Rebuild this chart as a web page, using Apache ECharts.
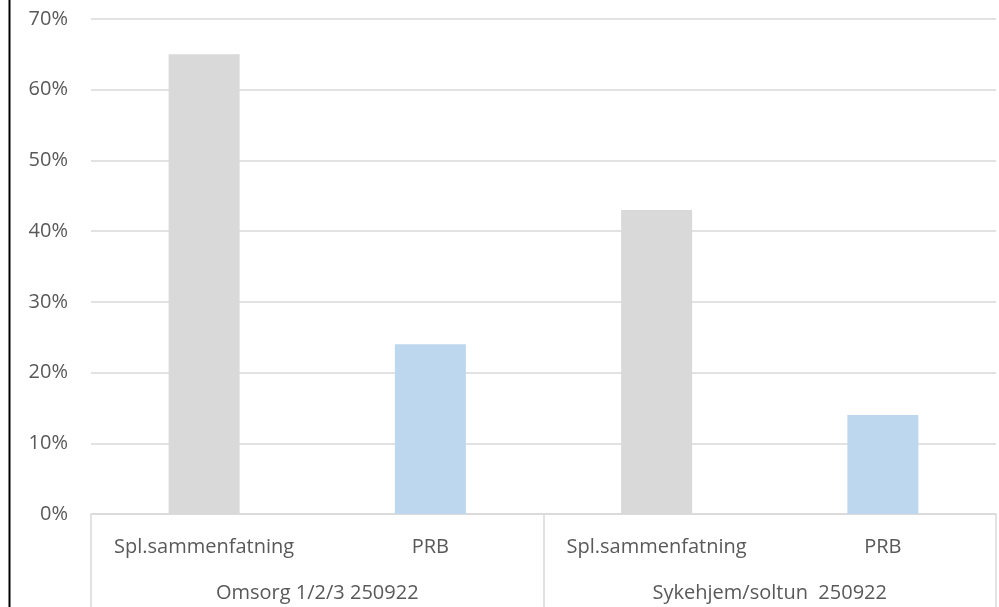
<!DOCTYPE html>
<html>
<head>
<meta charset="utf-8">
<script src="https://cdn.jsdelivr.net/npm/echarts@6/dist/echarts.min.js"></script>
<style>
  html, body { margin: 0; padding: 0; background: #fff; }
  #chart { width: 999px; height: 607px; }
</style>
</head>
<body>
<div id="chart"></div>
<script>
// Inner (per-bar) and outer (group) category labels
const categories = ['Spl.sammenfatning', 'PRB', 'Spl.sammenfatning', 'PRB'];
const groups = ['Omsorg 1/2/3 250922', 'Sykehjem/soltun  250922'];
// Share in percent for each bar
const values = [65, 24, 43, 14];
const barColors = ['#d9d9d9', '#bdd7ee', '#d9d9d9', '#bdd7ee'];
const yTicks = [0, 10, 20, 30, 40, 50, 60, 70];

const FONT = 'Open Sans';
const SIZE = 20;
const TEXT = '#595959';
const LINE = '#d9d9d9';

const chart = echarts.init(document.getElementById('chart'), null, { renderer: 'canvas' });

chart.setOption({
  animation: false,
  backgroundColor: '#ffffff',
  grid: { left: 91, right: 3, top: 19, bottom: 93, containLabel: false },
  xAxis: [
    {
      type: 'category',
      data: categories,
      position: 'bottom',
      axisLine: { show: true, lineStyle: { color: LINE, width: 1.5 } },
      axisTick: { show: false },
      axisLabel: { color: TEXT, fontFamily: FONT, fontSize: SIZE, margin: 23, interval: 0 },
      splitLine: { show: false }
    },
    {
      type: 'category',
      data: groups,
      position: 'bottom',
      axisLine: { show: false },
      axisTick: {
        show: true, alignWithLabel: false, interval: 0, inside: false, length: 95,
        lineStyle: { color: LINE, width: 1.5 }
      },
      axisLabel: { color: TEXT, fontFamily: FONT, fontSize: SIZE, margin: 69, interval: 0 },
      splitLine: { show: false }
    }
  ],
  yAxis: {
    type: 'value',
    min: yTicks[0],
    max: yTicks[yTicks.length - 1],
    interval: 10,
    axisLine: { show: false },
    axisTick: { show: false },
    axisLabel: { color: TEXT, fontFamily: FONT, fontSize: SIZE, margin: 23, formatter: '{value}%' },
    splitLine: { show: true, lineStyle: { color: LINE, width: 1.5 } }
  },
  series: [
    {
      type: 'bar',
      xAxisIndex: 0,
      barWidth: 71,
      data: values.map((v, i) => ({ value: v, itemStyle: { color: barColors[i] } }))
    }
  ],
  graphic: [
    {
      type: 'line',
      shape: { x1: 9.5, y1: 0, x2: 9.5, y2: 607 },
      style: { stroke: '#000000', lineWidth: 2 }
    }
  ]
});
</script>
</body>
</html>
